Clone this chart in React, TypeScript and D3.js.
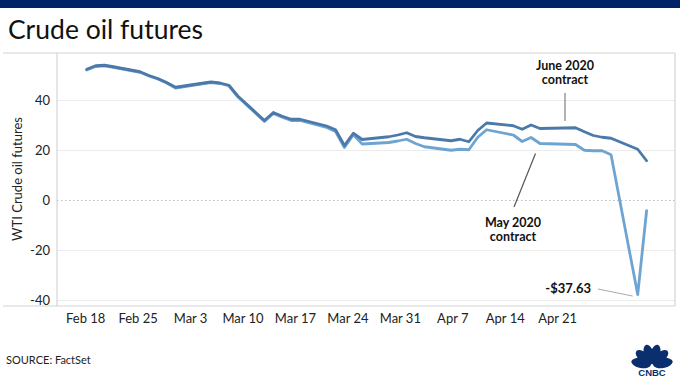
import React from "react";
import * as d3 from "d3";

const dates = [
  "2020-02-18","2020-02-19","2020-02-20","2020-02-21","2020-02-24","2020-02-25","2020-02-26","2020-02-27","2020-02-28",
  "2020-03-02","2020-03-03","2020-03-04","2020-03-05","2020-03-06","2020-03-09","2020-03-10","2020-03-11","2020-03-12","2020-03-13",
  "2020-03-16","2020-03-17","2020-03-18","2020-03-19","2020-03-20","2020-03-23","2020-03-24","2020-03-25","2020-03-26","2020-03-27",
  "2020-03-30","2020-03-31","2020-04-01","2020-04-02","2020-04-03","2020-04-06","2020-04-07","2020-04-08","2020-04-09",
  "2020-04-13","2020-04-14","2020-04-15","2020-04-16","2020-04-17","2020-04-20","2020-04-21"
];

const may2020 = [
  52.2, 53.6, 53.9, 53.3, 51.3, 49.8, 48.6, 47.0, 45.0,
  46.7, 47.2, 46.8, 45.9, 41.5, 31.6, 34.8, 33.3, 32.0, 32.0,
  29.2, 27.6, 21.2, 26.3, 22.6, 23.2, 23.8, 24.5, 22.8, 21.5,
  20.1, 20.5, 20.3, 25.3, 28.3, 26.2, 23.6, 25.2, 22.8,
  22.4, 20.1, 19.9, 19.9, 18.3, -37.63, -4.1
];

const june2020 = [
  52.5, 53.9, 54.1, 53.5, 51.5, 50.0, 48.8, 47.2, 45.3,
  46.9, 47.4, 47.0, 46.1, 41.8, 32.0, 35.2, 33.7, 32.5, 32.5,
  29.8, 28.3, 22.0, 26.9, 24.4, 25.5, 26.2, 27.1, 25.6, 25.1,
  23.9, 24.5, 23.5, 28.0, 31.0, 29.9, 28.5, 30.2, 28.8,
  29.1, 27.5, 26.0, 25.3, 24.9, 20.5, 15.9
];

const xTickLabels = ["Feb 18","Feb 25","Mar 3","Mar 10","Mar 17","Mar 24","Mar 31","Apr 7","Apr 14","Apr 21"];
const yTicks = [40, 20, 0, -20, -40];

const W = 680, H = 382;
const plotLeft = 57, plotRight = 675, plotTop = 53, plotBottom = 306;
const font = "Lato, 'Open Sans', sans-serif";

export default function App() {
  const parse = d3.timeParse("%Y-%m-%d");
  const t = dates.map((d) => parse(d) as Date);
  const x = d3.scaleTime().domain([t[0], t[t.length - 1]]).range([86.7, 646.6]);
  const y = d3.scaleLinear().domain([0, 40]).range([200.5, 100.5]);
  const xl = d3.scalePoint<string>().domain(xTickLabels).range([85.7, 557.7]);

  const line = d3.line<number>()
    .x((_, i) => x(t[i]))
    .y((v) => y(v))
    .curve(d3.curveLinear);

  const mayPath = line(may2020) || "";
  const junePath = line(june2020) || "";

  const minIdx = may2020.indexOf(d3.min(may2020) as number);
  const minX = x(t[minIdx]);
  const minY = y(may2020[minIdx]);

  const pcx = 652, pcy = 365;
  const angles = [-80, -48, -16, 16, 48, 80];

  return (
    <svg width={W} height={H} style={{ position: "absolute", left: 0, top: 0, background: "#fff" }}>
      <rect x={0} y={0} width={W} height={H} fill="#fff" />
      <rect x={0} y={0} width={W} height={8} fill="#002266" />
      <text x={8} y={39} fontFamily={font} fontSize={26.5} fill="#111">Crude oil futures</text>

      {yTicks.filter((v) => v !== 0).map((v) => (
        <line key={v} x1={plotLeft} x2={plotRight} y1={y(v)} y2={y(v)} stroke="#ececec" strokeWidth={1} />
      ))}
      <line x1={plotLeft} x2={plotRight} y1={y(0)} y2={y(0)} stroke="#bdbdbd" strokeWidth={1} strokeDasharray="1.5,2.5" />

      <line x1={3} x2={plotRight} y1={plotTop} y2={plotTop} stroke="#d4d4d4" strokeWidth={1.2} />
      <line x1={3} x2={plotRight} y1={plotBottom} y2={plotBottom} stroke="#d4d4d4" strokeWidth={1.2} />
      <line x1={plotLeft} x2={plotLeft} y1={plotTop} y2={plotBottom} stroke="#d4d4d4" strokeWidth={1.2} />
      <line x1={plotRight} x2={plotRight} y1={plotTop} y2={plotBottom} stroke="#d4d4d4" strokeWidth={1.2} />

      {yTicks.map((v) => (
        <text key={v} x={50} y={y(v) + 4.5} textAnchor="end" fontFamily={font} fontSize={13} fill="#222">{v}</text>
      ))}
      <text transform={`translate(22,179) rotate(-90)`} textAnchor="middle" fontFamily={font} fontSize={13} fill="#222">WTI Crude oil futures</text>

      {xTickLabels.map((l) => (
        <text key={l} x={xl(l)} y={323} textAnchor="middle" fontFamily={font} fontSize={13} fill="#222">{l}</text>
      ))}

      <path d={mayPath} fill="none" stroke="#6ea4d2" strokeWidth={2.8} strokeLinejoin="round" strokeLinecap="round" />
      <path d={junePath} fill="none" stroke="#4a79aa" strokeWidth={2.8} strokeLinejoin="round" strokeLinecap="round" />

      <text x={565} y={70} textAnchor="middle" fontFamily={font} fontSize={12.5} fontWeight={700} fill="#111">June 2020</text>
      <text x={565} y={83.5} textAnchor="middle" fontFamily={font} fontSize={12.5} fontWeight={700} fill="#111">contract</text>
      <line x1={565} x2={565} y1={93} y2={121} stroke="#9a9a9a" strokeWidth={1.5} />

      <text x={513} y={227} textAnchor="middle" fontFamily={font} fontSize={12.5} fontWeight={700} fill="#111">May 2020</text>
      <text x={513} y={240.5} textAnchor="middle" fontFamily={font} fontSize={12.5} fontWeight={700} fill="#111">contract</text>
      <line x1={535.5} x2={514} y1={153.5} y2={207} stroke="#555" strokeWidth={1.2} />

      <text x={591} y={293} textAnchor="end" fontFamily={font} fontSize={13} fontWeight={700} fill="#111">-$37.63</text>
      <line x1={598} x2={minX - 5} y1={289} y2={minY + 1.5} stroke="#aaa" strokeWidth={1} />

      <text x={6} y={364} fontFamily={font} fontSize={11} fill="#222">SOURCE: FactSet</text>

      <g fill="#0b2e6e">
        {angles.map((a) => (
          <ellipse key={a} cx={0} cy={-11} rx={5} ry={10} transform={`translate(${pcx},${pcy}) rotate(${a})`} />
        ))}
      </g>
      <text x={652} y={376} textAnchor="middle" fontFamily="'Liberation Sans', Arial, sans-serif" fontWeight={700} fontSize={9.5} fill="#0b2e6e">CNBC</text>
    </svg>
  );
}
